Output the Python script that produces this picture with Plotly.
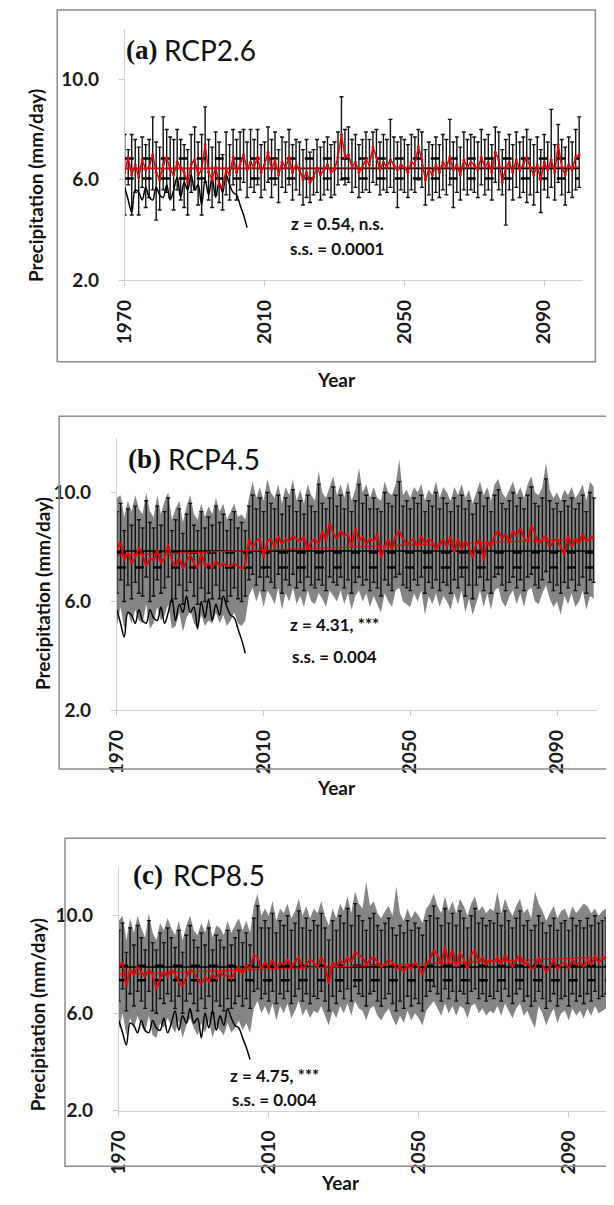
import plotly.graph_objects as go

# ---- data -------------------------------------------------------------
years = list(range(1970, 2101))
obs_years = list(range(1970, 2006))
obs_precip = [5.7, 5.2, 4.7, 5.6, 5.5, 5.2, 5.7, 5.3, 5.2, 5.7,
              5.4, 5.3, 5.8, 5.2, 5.6, 6.1, 5.3, 5.9, 5.6, 6.2,
              5.6, 5.8, 5.0, 6.0, 5.4, 6.1, 5.3, 5.9, 5.5, 6.2,
              5.8, 5.5, 5.4, 5.0, 4.6, 4.1]

# (a) RCP2.6
a_mean = [6.3, 6.9, 6.2, 6.6, 6.1, 6.8, 6.4, 6.5, 7.0, 6.3,
          6.0, 6.6, 6.9, 6.4, 6.2, 6.7, 6.5, 6.3, 5.9, 6.6,
          6.8, 6.2, 6.4, 7.4, 6.3, 6.0, 6.5, 5.8, 5.7, 6.4,
          6.2, 6.9, 6.3, 6.6, 7.0, 6.4, 6.7, 6.5, 6.9, 6.3,
          6.6, 7.1, 6.4, 6.8, 6.2, 6.7, 6.5, 6.9, 6.3, 6.6,
          6.4, 6.0, 6.3, 5.9, 6.1, 6.5, 6.2, 6.4, 6.6, 6.3,
          6.4, 6.9, 7.8, 6.9, 7.0, 6.5, 6.7, 6.3, 6.5, 6.8,
          6.6, 7.3, 6.9, 6.4, 6.7, 6.5, 6.8, 6.6, 6.4, 6.6,
          6.5, 6.3, 6.7, 6.6, 7.3, 6.8, 6.0, 6.4, 6.2, 6.6,
          6.3, 6.7, 6.5, 6.9, 6.4, 6.6, 6.2, 6.8, 6.5, 6.7,
          6.6, 6.4, 6.9, 6.5, 6.7, 6.3, 7.1, 6.8, 5.9, 6.5,
          6.7, 6.3, 6.8, 6.4, 6.6, 6.9, 6.5, 6.2, 6.6, 6.0,
          6.7, 6.4, 6.8, 6.3, 7.4, 6.5, 6.2, 6.6, 6.4, 6.9,
          7.0]
a_hi = [7.8, 7.2, 7.8, 7.6, 7.3, 7.7, 7.4, 7.6, 8.5, 7.5,
        7.3, 8.5, 8.0, 7.7, 7.6, 8.0, 7.6, 7.4, 7.2, 7.8,
        8.1, 7.5, 7.8, 8.9, 7.6, 7.3, 7.9, 7.5, 7.0, 7.9,
        7.4, 8.0, 7.6, 7.9, 8.0, 7.5, 8.0, 7.6, 8.0, 7.4,
        7.5, 8.1, 7.6, 7.9, 7.2, 7.7, 7.5, 8.0, 7.4, 7.6,
        7.5, 7.2, 7.6, 7.1, 7.2, 7.6, 7.3, 7.5, 7.7, 7.4,
        7.5, 7.9, 9.3, 8.0, 8.1, 7.6, 7.8, 7.4, 7.6, 7.9,
        7.6, 7.9, 8.0, 7.5, 7.8, 7.6, 8.4, 7.7, 7.5, 7.7,
        7.6, 7.4, 7.8, 7.7, 8.0, 7.9, 7.2, 7.5, 7.4, 7.7,
        7.4, 7.8, 7.6, 8.4, 7.5, 7.7, 7.3, 7.9, 7.6, 7.8,
        7.7, 7.5, 8.0, 7.6, 7.8, 7.4, 8.1, 7.9, 7.2, 7.6,
        7.8, 7.4, 7.9, 7.5, 7.7, 8.0, 7.6, 7.4, 7.7, 7.2,
        7.8, 7.5, 8.8, 7.4, 8.2, 7.6, 7.3, 7.7, 7.5, 8.0,
        8.5]
a_lo = [4.6, 5.8, 4.6, 5.5, 4.6, 5.7, 4.9, 5.3, 5.6, 4.4,
        4.8, 5.6, 5.5, 5.3, 4.8, 5.6, 5.2, 4.9, 4.6, 5.5,
        5.6, 5.0, 4.6, 5.9, 5.2, 4.9, 5.4, 5.1, 4.8, 5.4,
        5.2, 5.8, 5.2, 5.6, 5.9, 5.3, 5.7, 5.5, 5.8, 5.3,
        5.6, 5.9, 5.3, 5.8, 5.1, 5.7, 5.5, 5.8, 5.2, 5.6,
        5.4, 5.0, 5.3, 5.1, 5.4, 5.5, 5.2, 5.4, 5.6, 5.3,
        5.4, 5.8, 6.0, 5.8, 5.9, 5.5, 5.7, 5.3, 5.5, 5.6,
        5.5, 5.9, 5.8, 5.4, 5.6, 5.5, 5.7, 5.5, 4.9, 5.6,
        5.5, 5.3, 5.6, 5.5, 6.0, 5.7, 5.0, 5.4, 5.2, 5.5,
        5.3, 5.6, 5.4, 5.8, 4.9, 5.5, 5.2, 5.6, 5.4, 5.6,
        5.5, 5.3, 5.8, 5.4, 5.6, 5.2, 5.9, 5.6, 5.4, 4.2,
        5.6, 5.2, 5.7, 5.3, 5.5, 5.1, 5.4, 5.0, 5.5, 4.7,
        5.6, 5.3, 5.7, 5.2, 5.9, 5.4, 5.0, 5.5, 5.3, 5.6,
        5.7]
a_trend = [6.45, 6.5]
a_dashed = [6.85, 6.05]
a_solid = 6.45

# (b) RCP4.5
b_mean = [7.9, 8.2, 7.5, 7.8, 7.4, 7.6, 8.0, 7.7, 7.3, 7.6,
          7.5, 7.9, 7.4, 7.6, 8.1, 7.5, 7.3, 7.6, 7.2, 7.5,
          7.7, 7.4, 7.2, 7.8, 7.3, 7.4, 7.2, 7.5, 7.3, 7.4,
          7.3, 7.3, 7.4, 7.3, 7.2, 7.3, 8.3, 8.0, 8.2, 8.3,
          7.6, 8.2, 8.3, 8.0, 8.4, 8.1, 8.3, 8.2, 8.4, 8.3,
          8.2, 8.4, 7.9, 8.2, 8.3, 8.1, 8.6, 8.2, 8.9, 8.5,
          8.3, 8.6, 8.4, 8.5, 8.0, 8.7, 8.2, 8.4, 8.1, 8.3,
          8.2, 8.5, 7.6, 8.0, 8.3, 7.9, 8.4, 8.6, 8.3, 8.1,
          8.2, 8.3, 8.0, 8.4, 8.1, 8.3, 8.2, 7.9, 8.1, 8.3,
          8.0, 8.4, 7.8, 8.3, 7.9, 8.2, 8.0, 7.6, 8.1, 8.3,
          7.5, 8.2, 8.0, 8.4, 8.6, 8.3, 8.5, 8.2, 8.6, 8.4,
          8.7, 8.3, 8.2, 8.8, 8.5, 8.1, 8.3, 8.4, 8.0, 8.2,
          8.3, 8.0, 7.7, 8.4, 8.0, 8.3, 8.1, 8.5, 8.2, 8.3,
          8.4]
b_hi = [9.3, 9.6, 8.6, 9.4, 8.8, 9.5, 9.0, 8.7, 9.7, 8.9,
        8.7, 9.5, 8.8, 9.3, 9.8, 8.6, 9.0, 9.4, 8.5, 9.2,
        9.6, 8.8, 8.6, 9.3, 8.7, 9.1, 8.8, 9.5, 8.9, 9.2,
        8.6, 9.0, 9.3, 8.7, 8.9, 8.6, 9.5, 9.9, 9.4, 9.8,
        9.3, 10.0, 9.6, 9.4, 9.9, 9.2, 9.8, 9.5, 10.1, 9.3,
        9.7, 9.2, 9.9, 9.5, 9.3, 10.3, 9.6, 9.4, 9.8, 10.2,
        9.5, 9.9, 9.4, 10.0, 9.3, 9.7, 10.3, 9.6, 9.9, 9.4,
        9.8, 9.4, 9.3, 10.0, 9.6, 9.5, 9.9, 10.4, 9.5, 9.7,
        9.4, 9.8, 9.6, 9.9, 9.3, 9.7, 9.5, 10.0, 9.4, 9.8,
        9.6, 9.3, 9.8, 9.5, 9.9, 9.4, 9.7, 9.2, 9.6, 10.0,
        9.5, 9.8, 9.3, 9.9, 10.1, 9.6, 9.4, 9.7, 10.0, 9.5,
        9.8, 9.4, 9.9, 10.2, 9.6, 9.5, 9.8, 10.5, 9.7, 9.4,
        9.6, 9.3, 9.7, 9.5, 9.8, 9.4, 9.6, 9.9, 9.3, 10.0,
        9.8]
b_lo = [6.3, 6.8, 6.0, 6.6, 6.1, 6.7, 6.3, 6.2, 6.9, 6.0,
        6.2, 6.8, 6.3, 6.5, 6.9, 6.0, 6.1, 6.6, 5.9, 6.4,
        6.7, 6.2, 5.9, 6.5, 6.0, 6.3, 6.1, 6.6, 6.1, 6.4,
        6.0, 6.2, 6.5, 6.1, 6.0, 6.2, 6.8, 7.0, 6.6, 6.9,
        6.4, 6.9, 6.7, 6.5, 7.0, 6.3, 6.8, 6.6, 7.0, 6.5,
        6.7, 6.4, 6.9, 6.6, 6.5, 6.8, 6.6, 6.4, 6.9, 6.7,
        6.6, 6.9, 6.5, 6.8, 6.3, 6.7, 6.9, 6.6, 6.8, 6.4,
        6.7, 6.5, 6.2, 6.8, 6.6, 6.4, 6.9, 7.0, 6.6, 6.5,
        6.4, 6.8, 6.6, 6.9, 6.3, 6.7, 6.5, 6.8, 6.4, 6.7,
        6.6, 6.3, 6.8, 6.5, 6.9, 6.2, 6.6, 6.1, 6.6, 6.9,
        6.4, 6.8, 6.3, 6.9, 7.0, 6.6, 6.4, 6.7, 6.9, 6.5,
        6.8, 6.4, 6.9, 7.0, 6.6, 6.5, 6.8, 7.1, 6.7, 6.4,
        6.6, 6.3, 6.7, 6.5, 6.8, 6.4, 6.6, 6.9, 6.3, 6.8,
        6.7]
b_band_hi = [9.8, 9.9, 9.1, 9.7, 9.3, 9.9, 9.4, 9.2, 10.0, 9.3,
             9.1, 9.9, 9.2, 9.7, 10.0, 9.0, 9.4, 9.7, 8.9, 9.5,
             9.9, 9.2, 9.0, 9.6, 9.1, 9.5, 9.2, 9.8, 9.3, 9.6,
             9.0, 9.3, 9.6, 9.1, 9.2, 9.0, 9.8, 10.4, 9.8, 10.2,
             9.7, 10.5, 10.0, 9.8, 10.3, 9.6, 10.2, 9.9, 10.5, 9.7,
             10.1, 9.6, 10.3, 9.9, 9.7, 10.8, 10.0, 9.8, 10.2, 10.6,
             9.9, 10.3, 9.8, 10.4, 9.7, 10.1, 10.9, 10.0, 10.3, 9.8,
             10.2, 9.8, 9.7, 10.4, 10.0, 9.9, 10.3, 11.2, 9.9, 10.1,
             9.8, 10.2, 10.0, 10.3, 9.7, 10.1, 9.9, 10.4, 9.8, 10.2,
             10.0, 9.7, 10.2, 9.9, 10.3, 9.8, 10.1, 9.6, 10.0, 10.4,
             9.9, 10.2, 9.7, 10.3, 10.5, 10.0, 9.8, 10.1, 10.4, 9.9,
             10.2, 9.8, 10.3, 10.6, 10.0, 9.9, 10.2, 11.1, 10.1, 9.8,
             10.0, 9.7, 10.1, 9.9, 10.2, 9.8, 10.0, 10.3, 9.7, 10.4,
             10.2]
b_band_lo = [5.1, 5.8, 5.0, 5.6, 5.2, 5.7, 5.3, 5.2, 5.9, 5.0,
             5.2, 5.8, 5.3, 5.5, 5.9, 5.0, 5.1, 5.6, 4.9, 5.4,
             5.7, 5.2, 5.0, 5.5, 5.1, 5.3, 5.2, 5.6, 5.2, 5.5,
             5.1, 5.3, 5.6, 5.2, 5.1, 5.3, 6.2, 6.5, 6.0, 6.4,
             5.8, 6.4, 6.2, 5.9, 6.5, 5.7, 6.3, 6.0, 6.5, 5.9,
             6.2, 5.8, 6.4, 6.0, 5.9, 6.3, 6.1, 5.8, 6.4, 6.2,
             6.0, 6.4, 5.9, 6.3, 5.7, 6.2, 6.4, 6.0, 6.3, 5.8,
             6.2, 5.9, 5.6, 6.3, 6.0, 5.8, 6.4, 6.5, 6.0, 5.9,
             5.8, 6.3, 6.0, 6.4, 5.5, 6.2, 5.9, 6.3, 5.8, 6.2,
             6.0, 5.7, 6.3, 5.9, 6.4, 5.6, 6.1, 5.5, 6.0, 6.4,
             5.8, 6.3, 5.7, 6.4, 6.5, 6.0, 5.8, 6.2, 6.4, 5.9,
             6.3, 5.8, 6.4, 6.5, 6.0, 5.9, 6.3, 6.6, 6.1, 5.8,
             6.0, 5.5, 6.2, 5.9, 6.3, 5.8, 6.0, 6.4, 5.7, 6.2,
             6.1]
b_trend = [7.7, 8.3]
b_dashed = [7.8, 7.25]
b_solid = 7.85

# (c) RCP8.5
c_mean = [7.9, 8.1, 7.1, 7.8, 7.6, 7.9, 7.7, 7.5, 7.8, 7.6,
          7.0, 7.4, 7.7, 7.5, 7.8, 7.6, 7.3, 7.1, 7.5, 7.8,
          7.7, 7.4, 7.2, 7.5, 7.3, 7.6, 7.4, 7.7, 7.5, 7.6,
          7.4, 7.7, 7.9, 7.6, 8.0, 7.8, 8.4, 8.3, 7.8, 8.1,
          7.9, 8.2, 7.8, 8.1, 8.0, 8.2, 7.9, 8.1, 8.3, 7.8,
          8.0, 8.2, 8.1, 7.9, 8.3, 8.0, 7.2, 8.1, 7.9, 8.2,
          8.0, 8.3, 8.1, 8.5, 8.4, 8.3, 8.0, 8.2, 8.3, 8.1,
          7.9, 8.0, 8.2, 8.1, 7.8, 7.9, 7.7, 8.0, 7.8, 8.1,
          7.9, 7.6, 8.0, 8.2, 8.6, 8.4, 8.0, 8.7, 8.1, 8.6,
          7.9, 8.5, 8.2, 7.8, 8.4, 8.6, 8.1, 8.3, 8.0, 8.2,
          8.1, 8.3, 8.0, 8.4, 8.1, 7.9, 8.2, 8.4, 8.0, 8.1,
          7.8, 7.9, 8.3, 8.0, 7.7, 7.9, 8.2, 7.8, 8.0, 8.1,
          7.8, 8.2, 8.0, 8.1, 7.9, 8.2, 8.0, 8.3, 8.1, 8.2,
          8.3]
c_hi = [9.4, 9.7, 8.5, 9.5, 8.8, 9.6, 9.1, 8.6, 9.8, 8.9,
        8.6, 9.3, 8.9, 9.5, 9.1, 8.7, 9.4, 8.5, 9.2, 9.6,
        9.0, 8.7, 9.3, 8.8, 9.5, 8.6, 9.2, 9.0, 8.7, 9.4,
        8.8, 9.1, 9.4, 8.9, 9.3, 8.8, 9.9, 10.4, 9.5, 9.8,
        9.5, 10.1, 9.3, 9.8, 9.6, 10.0, 9.4, 9.7, 10.2, 9.5,
        9.9, 9.4, 9.8, 9.6, 10.1, 9.5, 9.0, 9.8, 9.4, 10.0,
        9.7, 10.3, 9.6, 10.5, 10.0, 9.8, 9.4, 9.9, 10.1, 9.6,
        9.4, 9.7, 9.9, 9.5, 9.2, 9.6, 9.3, 9.8, 9.4, 9.7,
        9.5, 9.2, 9.8, 10.0, 10.4, 9.9, 9.6, 10.3, 9.7, 10.1,
        9.6, 10.2, 9.9, 9.5, 10.0, 10.3, 9.7, 9.9, 9.6, 9.8,
        9.7, 10.1, 9.6, 10.2, 9.8, 9.5, 9.9, 10.2, 9.6, 9.8,
        9.4, 9.6, 10.0, 9.7, 9.3, 9.6, 9.9, 9.4, 9.7, 9.8,
        9.4, 9.9, 9.6, 9.8, 9.5, 9.9, 9.6, 10.0, 9.7, 9.8,
        9.9]
c_lo = [6.5, 7.0, 6.1, 6.8, 6.3, 6.9, 6.5, 6.2, 6.9, 6.1,
        6.0, 6.6, 6.4, 6.8, 6.5, 6.2, 6.7, 6.0, 6.5, 6.8,
        6.4, 6.1, 6.6, 6.2, 6.7, 6.0, 6.5, 6.3, 6.1, 6.6,
        6.2, 6.4, 6.7, 6.3, 6.6, 6.2, 6.9, 7.0, 6.6, 6.8,
        6.5, 6.9, 6.4, 6.8, 6.6, 6.9, 6.4, 6.7, 7.0, 6.5,
        6.8, 6.4, 6.7, 6.6, 6.9, 6.5, 6.1, 6.7, 6.4, 6.9,
        6.6, 7.0, 6.5, 7.1, 6.8, 6.7, 6.3, 6.8, 6.9, 6.5,
        6.3, 6.6, 6.8, 6.4, 6.1, 6.5, 6.2, 6.7, 6.3, 6.6,
        6.4, 6.1, 6.7, 6.9, 7.1, 6.8, 6.5, 7.0, 6.6, 6.9,
        6.5, 6.9, 6.8, 6.4, 6.9, 7.0, 6.6, 6.8, 6.5, 6.7,
        6.6, 6.9, 6.5, 7.0, 6.7, 6.4, 6.8, 7.0, 6.5, 6.7,
        6.3, 6.5, 6.9, 6.6, 6.2, 6.5, 6.8, 6.3, 6.6, 6.7,
        6.3, 6.8, 6.5, 6.7, 6.4, 6.8, 6.5, 6.9, 6.6, 6.7,
        6.8]
c_band_hi = [9.8, 10.0, 9.0, 9.9, 9.3, 10.0, 9.5, 9.1, 10.1, 9.3,
             9.0, 9.7, 9.4, 9.9, 9.5, 9.2, 9.8, 9.0, 9.6, 10.0,
             9.4, 9.2, 9.7, 9.3, 9.9, 9.1, 9.6, 9.5, 9.2, 9.8,
             9.3, 9.6, 9.9, 9.4, 9.8, 9.3, 10.4, 10.9, 10.0, 10.3,
             10.0, 10.6, 9.8, 10.3, 10.1, 10.5, 9.9, 10.2, 10.7, 10.0,
             10.4, 9.9, 10.3, 10.1, 10.6, 10.0, 9.6, 10.3, 9.9, 10.5,
             10.2, 10.8, 10.1, 11.0, 10.5, 10.3, 11.4, 10.4, 10.6, 10.1,
             9.9, 10.2, 10.4, 10.0, 11.2, 10.1, 9.8, 10.3, 9.9, 10.2,
             10.0, 9.7, 10.3, 10.5, 10.9, 10.4, 10.1, 10.8, 10.2, 10.6,
             10.1, 10.7, 10.4, 10.0, 10.5, 10.8, 10.2, 10.4, 10.1, 10.3,
             10.2, 11.0, 10.1, 10.7, 10.3, 10.0, 10.4, 10.7, 10.1, 10.3,
             9.9, 11.0, 10.5, 10.2, 9.8, 10.1, 10.4, 9.9, 10.2, 10.3,
             9.9, 10.4, 10.1, 10.3, 10.5, 10.4, 10.1, 10.3, 10.0, 10.2,
             10.3]
c_band_lo = [5.3, 6.0, 5.1, 5.8, 5.4, 5.9, 5.5, 5.2, 5.9, 5.1,
             5.0, 5.6, 5.4, 5.8, 5.5, 5.2, 5.7, 5.0, 5.5, 5.8,
             5.4, 5.1, 5.6, 5.2, 5.7, 5.0, 5.5, 5.3, 5.1, 5.6,
             5.2, 5.4, 5.7, 5.3, 5.6, 5.2, 6.2, 6.5, 6.0, 6.3,
             5.9, 6.4, 5.7, 6.3, 6.0, 6.4, 5.8, 6.1, 6.5, 5.9,
             6.2, 5.8, 6.1, 6.0, 6.3, 5.9, 5.5, 6.1, 5.8, 6.3,
             6.0, 6.4, 5.9, 6.5, 6.2, 6.1, 5.7, 6.2, 6.3, 5.9,
             5.7, 6.0, 6.2, 5.8, 5.5, 5.9, 5.6, 6.1, 5.7, 6.0,
             5.8, 5.5, 6.1, 6.3, 6.5, 6.2, 5.9, 6.4, 6.0, 6.3,
             5.9, 6.3, 6.2, 5.8, 6.3, 6.4, 6.0, 6.2, 5.9, 6.1,
             6.0, 6.3, 5.9, 6.4, 6.1, 5.8, 6.2, 6.4, 5.9, 6.1,
             5.7, 5.4, 6.3, 6.0, 5.5, 5.9, 6.2, 5.6, 6.0, 6.1,
             5.7, 6.2, 5.9, 6.1, 5.8, 6.2, 5.9, 6.3, 6.0, 6.1,
             6.2]
c_trend = [7.6, 8.3]
c_dashed = [7.95, 7.35]
c_solid = 7.9

trend_years = [1970, 2100]
x_ticks = [1970, 2010, 2050, 2090]
y_ticks = [2.0, 6.0, 10.0]

# ---- layout helpers ---------------------------------------------------
# the page body keeps its default 8px margin, so the figure starts at (8, 8)
PAGE_W, PAGE_H, OFF = 614, 1205, 8
W, H = PAGE_W - OFF, PAGE_H - OFF
def px(x):
    return (x - OFF) / W
def py(y):
    return 1 - (y - OFF) / H

RED = "#dd0a0a"
BAND = "#858585"
FONT = "Lato"

panels = [
    dict(tag="(a)", name="RCP2.6", mean=a_mean, hi=a_hi, lo=a_lo, band=None,
         trend=a_trend, dashed=a_dashed, solid=a_solid,
         z="z = 0.54, n.s.", ss="s.s. = 0.0001",
         plot=(114, 582, 29, 283), xr=[1970, 2101], box=(45, 595, 10, 365),
         title_xy=(113, 50), rcp_x=152, ytitle=(23, 187), year=(330, 383),
         zxy=(331, 225, 251), markers=True, red_w=1.6),
    dict(tag="(b)", name="RCP4.5", mean=b_mean, hi=b_hi, lo=b_lo,
         band=(b_band_hi, b_band_lo),
         trend=b_trend, dashed=b_dashed, solid=b_solid,
         z="z = 4.31, ***", ss="s.s. = 0.004",
         plot=(106, 597, 442, 717), xr=[1970, 2101], box=(47, 608, 420, 776),
         title_xy=(115, 463), rcp_x=156, ytitle=(30, 599), year=(330, 795),
         zxy=(328, 630, 663), markers=False, red_w=2),
    dict(tag="(c)", name="RCP8.5", mean=c_mean, hi=c_hi, lo=c_lo,
         band=(c_band_hi, c_band_lo),
         trend=c_trend, dashed=c_dashed, solid=c_solid,
         z="z = 4.75, ***", ss="s.s. = 0.004",
         plot=(108, 606, 875, 1121), xr=[1970, 2100], box=(53, 613, 846, 1177),
         title_xy=(120, 883), rcp_x=161, ytitle=(25, 1024), year=(335, 1193),
         zxy=(267, 1085, 1110), markers=False, red_w=2),
]

fig = go.Figure()
annotations = []
shapes = []
layout_axes = {}


def label(text, x, y, size, weight="bold", family=FONT, angle=0, xanchor="center"):
    return dict(text=text, x=px(x), y=py(y), xref="paper", yref="paper",
                xanchor=xanchor, yanchor="middle", textangle=angle, showarrow=False,
                font=dict(family=family, size=size, color="#111", weight=weight))


for i, p in enumerate(panels):
    n = "" if i == 0 else str(i + 1)
    xa, ya = "x" + n, "y" + n
    x0, x1, y0, y1 = p["plot"]

    if p["band"] is not None:
        fig.add_trace(go.Scatter(x=years, y=p["band"][0], mode="lines",
                                 line=dict(width=0, color=BAND),
                                 xaxis=xa, yaxis=ya, showlegend=False,
                                 hoverinfo="skip"))
        fig.add_trace(go.Scatter(x=years, y=p["band"][1], mode="lines",
                                 line=dict(width=0, color=BAND), fill="tonexty",
                                 fillcolor=BAND, xaxis=xa, yaxis=ya,
                                 showlegend=False, hoverinfo="skip"))

    # ensemble spread as error bars
    fig.add_trace(go.Scatter(
        x=years, y=p["mean"], mode="markers",
        marker=dict(size=1, color="black"),
        error_y=dict(type="data", symmetric=False,
                     array=[h - m for h, m in zip(p["hi"], p["mean"])],
                     arrayminus=[m - l for m, l in zip(p["mean"], p["lo"])],
                     color="#111111", thickness=1.4, width=2),
        xaxis=xa, yaxis=ya, showlegend=False))

    # observed precipitation
    fig.add_trace(go.Scatter(x=obs_years, y=obs_precip, mode="lines",
                             line=dict(color="black", width=1.5, shape="spline"),
                             xaxis=xa, yaxis=ya, showlegend=False))

    # reference lines
    fig.add_trace(go.Scatter(x=trend_years, y=[p["solid"], p["solid"]], mode="lines",
                             line=dict(color="black", width=1.5),
                             xaxis=xa, yaxis=ya, showlegend=False))
    for d in p["dashed"]:
        fig.add_trace(go.Scatter(x=trend_years, y=[d, d], mode="lines",
                                 line=dict(color="black", width=2.5, dash="dash"),
                                 xaxis=xa, yaxis=ya, showlegend=False))

    # ensemble mean and its trend
    fig.add_trace(go.Scatter(x=years, y=p["mean"],
                             mode="lines+markers" if p["markers"] else "lines",
                             line=dict(color=RED, width=p["red_w"]),
                             marker=dict(size=3, color=RED),
                             xaxis=xa, yaxis=ya, showlegend=False))
    fig.add_trace(go.Scatter(x=trend_years, y=p["trend"], mode="lines",
                             line=dict(color=RED, width=1.3),
                             xaxis=xa, yaxis=ya, showlegend=False))

    layout_axes["xaxis" + n] = dict(
        domain=[px(x0), px(x1)], anchor=ya, range=p["xr"],
        tickvals=x_ticks, tickangle=-90, ticks="outside", ticklen=5,
        tickcolor="#c8c8c8", showline=True, linecolor="#d0d0d0", linewidth=1,
        showgrid=False, zeroline=False, ticklabelstandoff=6,
        tickfont=dict(family=FONT, size=19, color="#1a1a1a", weight="bold"))
    layout_axes["yaxis" + n] = dict(
        domain=[py(y1), py(y0)], anchor=xa, range=[2, 12],
        tickvals=y_ticks, tickformat=".1f", ticks="outside", ticklen=5,
        tickcolor="#c8c8c8", showline=True, linecolor="#d0d0d0", linewidth=1,
        showgrid=False, zeroline=False, ticklabelstandoff=16,
        tickfont=dict(family=FONT, size=19, color="#1a1a1a", weight="bold"))

    bx0, bx1, by0, by1 = p["box"]
    shapes.append(dict(type="rect", xref="paper", yref="paper",
                       x0=px(bx0), x1=px(bx1), y0=py(by1), y1=py(by0),
                       line=dict(color="#8c8c8c", width=1.5)))

    tx, ty = p["title_xy"]
    annotations.append(label(p["tag"], tx, ty, 27, family="Liberation Serif",
                             xanchor="left"))
    annotations.append(label(p["name"], p["rcp_x"], ty, 28, weight="normal",
                             xanchor="left"))
    annotations.append(label("Precipitation (mm/day)", *p["ytitle"], 19, angle=-90))
    annotations.append(label("Year", *p["year"], 19))
    zx, zy, sy = p["zxy"]
    annotations.append(label(p["z"], zx, zy, 17))
    annotations.append(label(p["ss"], zx, sy, 17))

fig.update_layout(
    width=W, height=H,
    margin=dict(l=0, r=0, t=0, b=0),
    paper_bgcolor="white", plot_bgcolor="white",
    showlegend=False,
    annotations=annotations,
    shapes=shapes,
    **layout_axes,
)

fig.write_html("out.html")
